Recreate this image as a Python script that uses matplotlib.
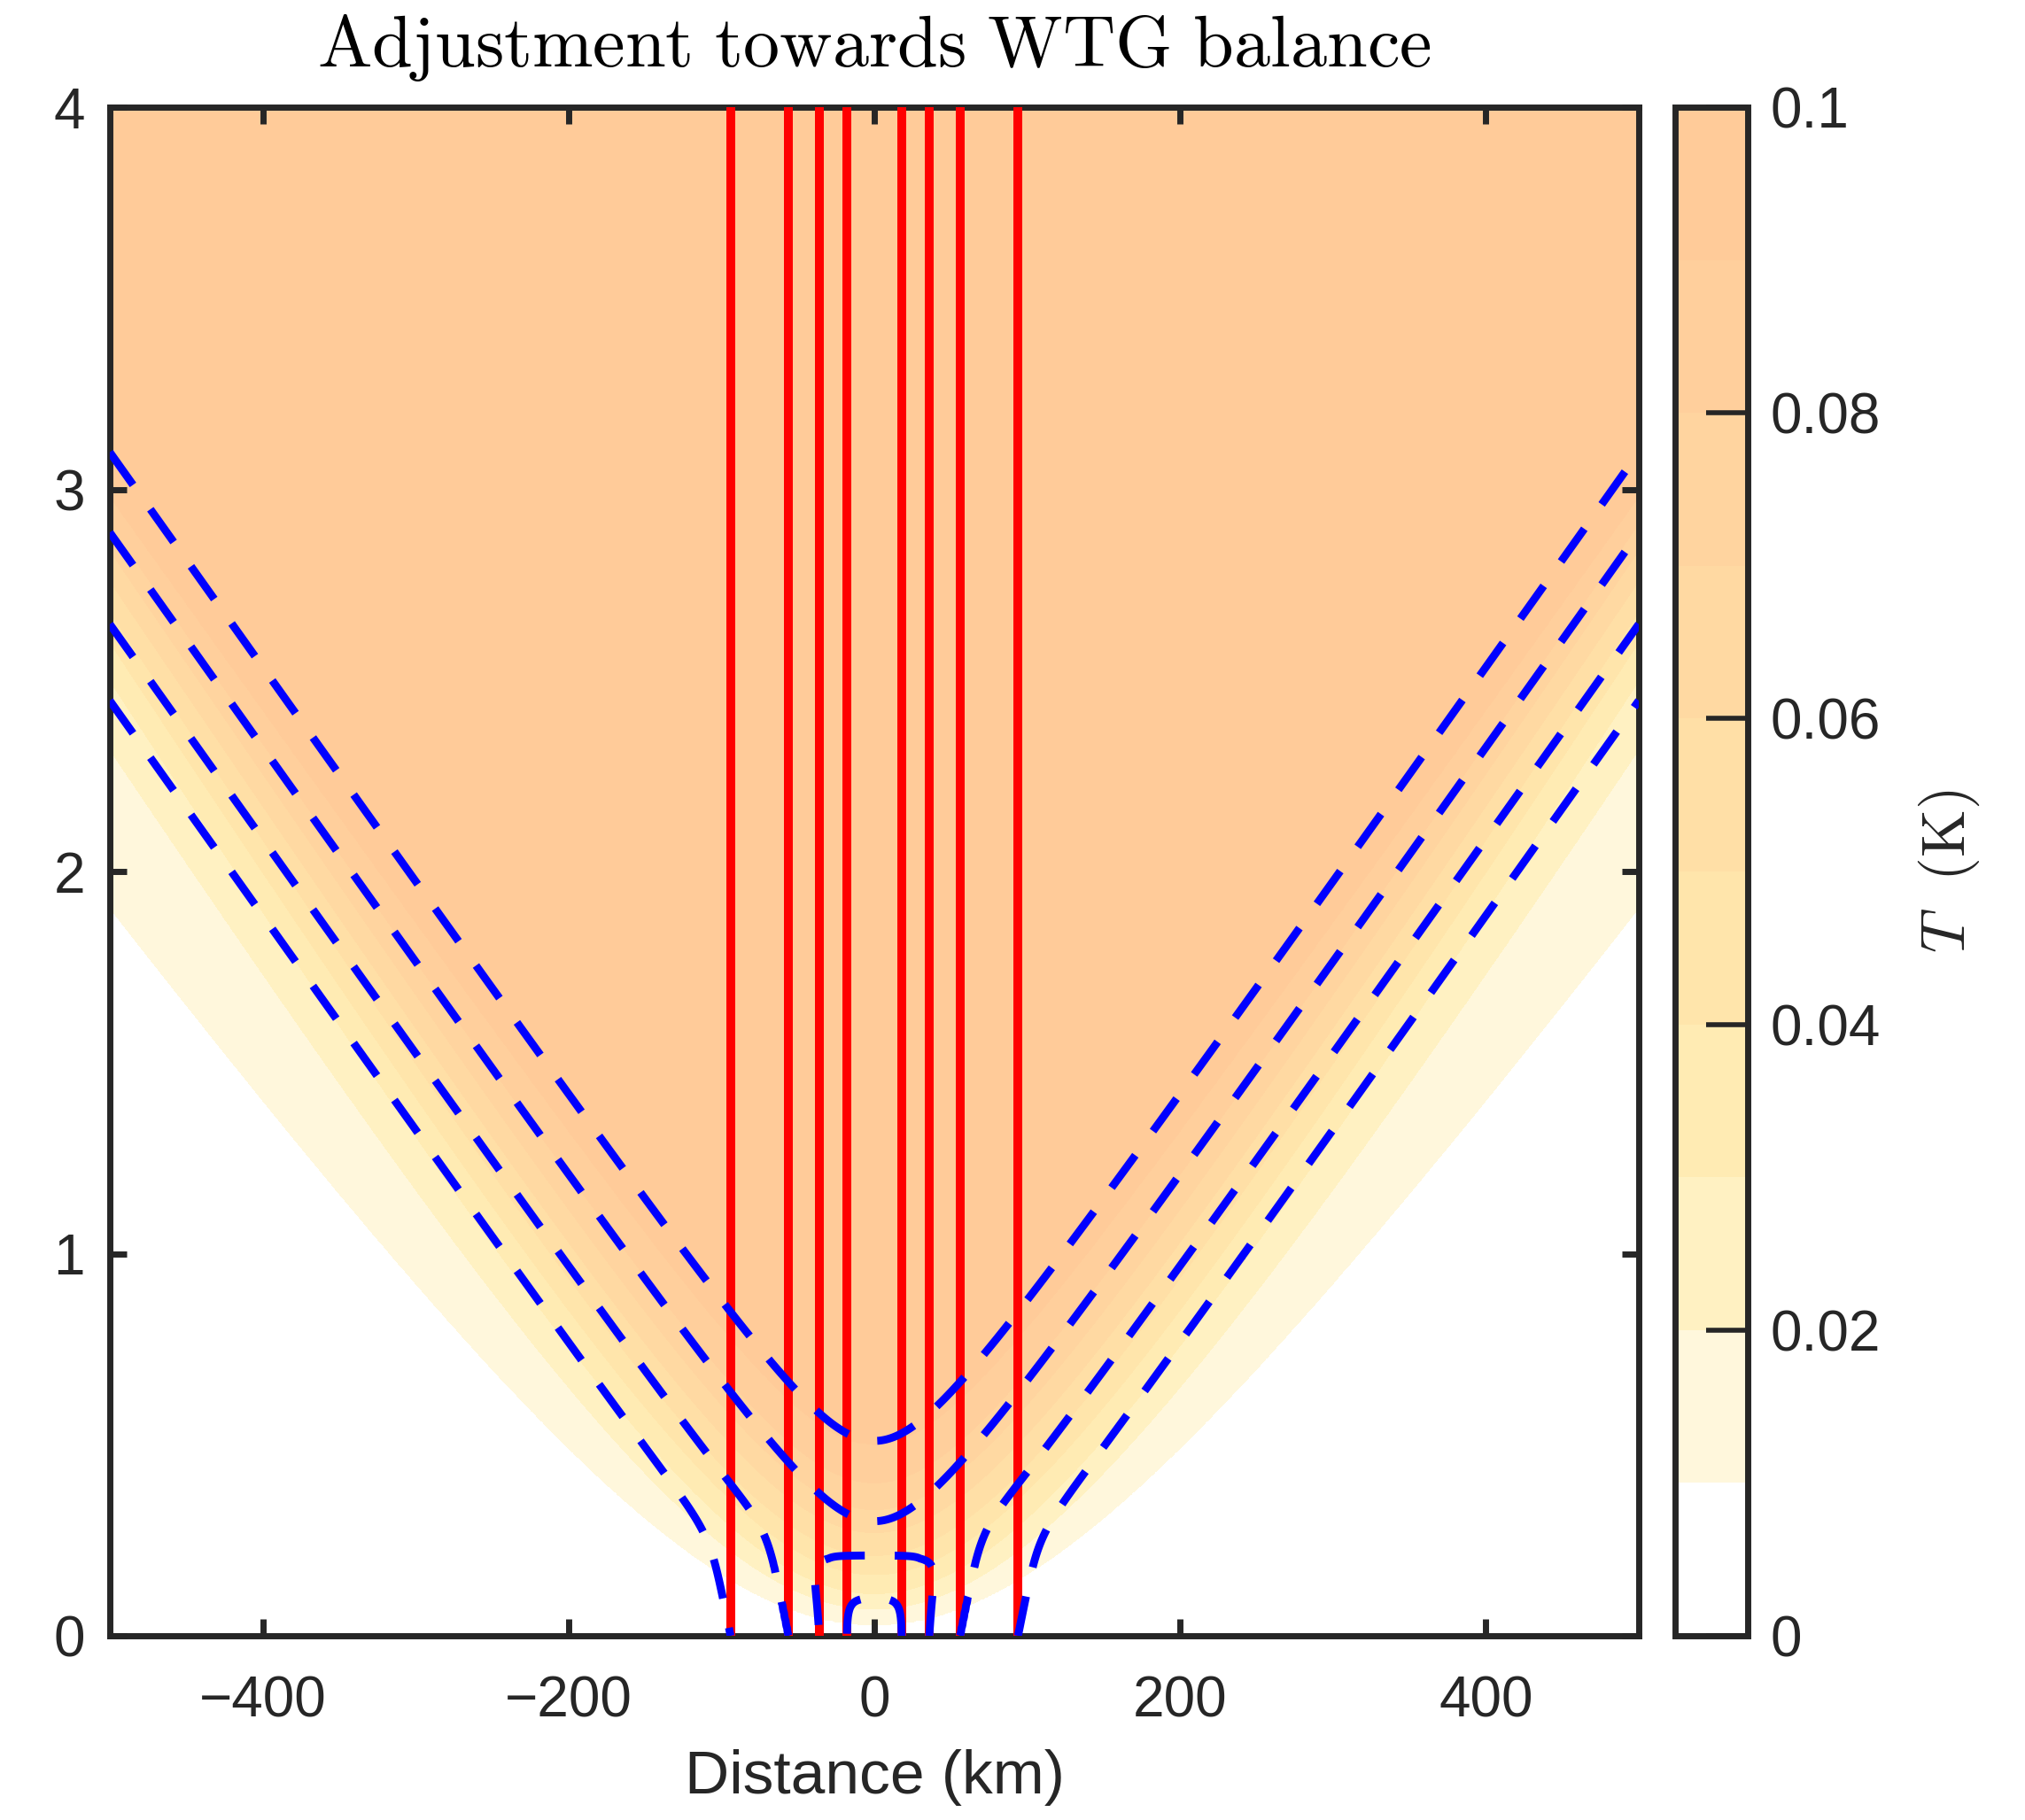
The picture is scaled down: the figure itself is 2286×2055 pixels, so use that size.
import numpy as np
import matplotlib
matplotlib.use("Agg")
import matplotlib.pyplot as plt
from matplotlib.colors import ListedColormap, BoundaryNorm

plt.rcParams['font.family'] = ['Liberation Sans', 'DejaVu Sans']
plt.rcParams['mathtext.fontset'] = 'cm'
plt.rcParams['ytick.minor.size'] = 0
plt.rcParams['ytick.minor.width'] = 0
plt.rcParams['xtick.minor.size'] = 0
plt.rcParams['xtick.minor.width'] = 0

# --- data ---------------------------------------------------------------
# filled T bands (K)
t_levels = [0, 0.01, 0.02, 0.03, 0.04, 0.05, 0.06, 0.07, 0.08, 0.09, 0.1]
band_colors = ['#ffffff', '#fff7dc', '#fff1c2', '#ffebb3', '#ffe5ab',
               '#ffdfa6', '#ffd9a2', '#ffd49f', '#ffcf9c', '#ffcb99']
# height (km) of each band edge (0.01 ... 0.09) at x = 0 and at |x| = 500 km
edge_center = [0.03, 0.07, 0.11, 0.16, 0.21, 0.27, 0.33, 0.40, 0.50]
edge_side = [1.905, 2.32, 2.50, 2.60, 2.68, 2.76, 2.84, 2.91, 2.98]
edge_bend = [196, 170, 145, 125, 110, 95, 85, 75, 65]   # km

# red lines: heating contours (vertical)
red_x = [-94, -56, -36, -18, 18, 36, 56, 94]

# blue dashed contours: level, where it meets the ground (km)
blue_levels = [-0.14, 0.06, 0.30, 0.51]
blue_foot = [94, 56, 36, 18]

cb_ticks = [0, 0.02, 0.04, 0.06, 0.08, 0.1]
cb_labels = ['0', '0.02', '0.04', '0.06', '0.08', '0.1']
x_ticks = [-400, -200, 0, 200, 400]
z_ticks = [0, 1, 2, 3, 4]

# --- fields --------------------------------------------------------------
x = np.linspace(-500, 500, 1001)
z = np.linspace(0, 4, 801)
X, Z = np.meshgrid(x, z)

zk = np.array([c + (e - c) * (np.sqrt(x**2 + b**2) - b) / (np.sqrt(500**2 + b**2) - b)
               for c, e, b in zip(edge_center, edge_side, edge_bend)])
T = np.empty_like(X)
for j in range(len(x)):
    zp = np.concatenate([[zk[0, j] - 0.5], zk[:, j], [zk[-1, j] + 0.5]])
    T[:, j] = np.interp(z, zp, t_levels)

# wedge coordinate of the blue contours
slope, bend = 0.00565, 44.0
q = Z - slope * (np.sqrt(X**2 + bend**2) - bend)
# near-ground part: columns tied to the red lines, leaning out with height
ax_abs = np.abs(X)
ramp = np.clip((ax_abs - 30) / 20, 0, 1)
x_eff = ax_abs - 50 * Z * ramp
R = np.interp(x_eff, [0] + blue_foot[::-1] + [600],
              [0.70] + blue_levels[::-1] + [-2.8])
P = 0.70 - 1.91 * Z


def smax(a, b, k):
    return k * np.logaddexp(a / k, b / k)


def smin(a, b, k):
    return -k * np.logaddexp(-a / k, -b / k)


B = smax(q, smin(R, P, 0.05), 0.03)

# --- plot ----------------------------------------------------------------
dark = '#262626'
fig = plt.figure(figsize=(11.43, 10.275), dpi=200)
ax = fig.add_axes([0.0542, 0.1012, 0.7551, 0.8399])
cax = fig.add_axes([0.8272, 0.1012, 0.0359, 0.8399])

cmap = ListedColormap(band_colors)
norm = BoundaryNorm(t_levels, cmap.N)
cf = ax.contourf(X, Z, T, levels=t_levels, cmap=cmap, norm=norm, zorder=1)
ax.vlines(red_x, 0, 4, colors='#ff0000', linewidth=3.6, zorder=3)
ax.contour(X, Z, B, levels=blue_levels, colors='#0000ff', linewidths=3.2,
           linestyles=[(0, (5.1, 3.8))], zorder=4)

ax.set_xlim(-500, 500)
ax.set_ylim(0, 4)
ax.set_xticks(x_ticks)
ax.set_yticks(z_ticks)
ax.tick_params(direction='in', length=7, width=2.5, top=True, right=True,
               labelsize=23, colors=dark)
ax.tick_params(axis='x', pad=16)
ax.tick_params(axis='y', pad=10)
for sp in ax.spines.values():
    sp.set_linewidth(2.5)
    sp.set_color(dark)

cb = fig.colorbar(cf, cax=cax, ticks=cb_ticks)
cb.minorticks_off()
cb.ax.set_yticklabels(cb_labels)
cb.ax.tick_params(direction='in', length=17, width=2, colors=dark,
                  labelsize=23, pad=9)
cb.outline.set_linewidth(2.5)
cb.outline.set_edgecolor(dark)

fig.text(0.4318, 0.9735, r'$\mathrm{Adjustment\ towards\ WTG\ balance}$',
         ha='center', va='center', fontsize=29.6)
fig.text(0.4318, 0.0235, 'Distance (km)', ha='center', va='center',
         fontsize=25, color=dark)
fig.text(0.9624, 0.521, r'$T\ \ \mathrm{(K)}$', rotation=90, ha='center',
         va='center', fontsize=25, color=dark)

fig.savefig('out.png', dpi=200)
